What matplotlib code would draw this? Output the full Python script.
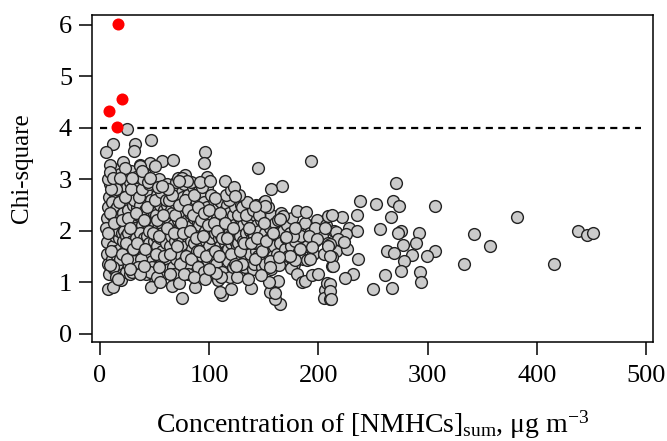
import numpy as np
import matplotlib
matplotlib.use("Agg")
import matplotlib.pyplot as plt

plt.rcParams['font.family'] = ['Liberation Serif', 'DejaVu Serif']
plt.rcParams['mathtext.fontset'] = 'custom'
plt.rcParams['mathtext.rm'] = 'Liberation Serif'
plt.rcParams['mathtext.it'] = 'Liberation Serif:italic'

# red points above the threshold
red_x = [16.2, 19.9, 8.5, 15.6]
red_y = [6.01, 4.55, 4.32, 4.01]

threshold = 4.0

# upper edge of the cloud
top_pts = [(25, 3.98), (11.6, 3.69), (5.5, 3.52), (32, 3.69), (31, 3.54), (46.4, 3.77),
           (96.4, 3.52), (9.2, 3.27), (21.4, 3.33), (23.2, 3.22), (36.6, 3.27), (45.8, 3.32),
           (57, 3.35), (67, 3.38), (95.5, 3.31), (144.7, 3.22), (193.5, 3.35), (166.7, 2.87),
           (156.9, 2.80), (120.2, 2.78), (114.7, 2.97), (122.4, 2.85), (97.7, 3.04), (91.8, 2.95),
           (71.7, 3.03), (77.8, 3.09), (9.2, 3.13), (37, 3.25), (50.6, 3.25), (75, 3.02),
           (79.7, 2.97), (72, 2.97), (101, 2.97), (11.6, 3.02), (18.6, 3.02), (29.3, 3.02),
           (38.5, 3.15), (46, 3.02), (56.8, 2.86), (151.4, 2.57), (105.6, 2.64), (123.9, 2.67),
           (209, 2.28), (180, 2.39), (189, 2.36), (168, 2.28), (151, 2.47), (142, 2.48),
           (165, 2.22)]

# sparse points on the right
right_pts = [(271, 2.92), (238, 2.57), (252.7, 2.52), (268.6, 2.57), (274, 2.47), (306.5, 2.47),
             (235.6, 2.30), (222, 2.27), (212, 2.30), (266.5, 2.26), (381.6, 2.27), (235, 2.00),
             (256, 2.03), (216, 1.97), (225, 1.93), (218, 1.84), (223, 1.77), (210.6, 1.74),
             (276, 1.99), (273, 1.95), (292, 1.95), (342.5, 1.93), (438, 2.00), (445.7, 1.91),
             (451.7, 1.95), (277.8, 1.72), (289, 1.75), (357, 1.71), (263, 1.60), (269.5, 1.56),
             (285.4, 1.53), (307, 1.61), (299, 1.50), (236, 1.44), (278.7, 1.41), (212, 1.48),
             (213, 1.32), (333.6, 1.35), (415.8, 1.35), (232, 1.16), (224, 1.08), (261, 1.14),
             (276, 1.21), (293, 1.19), (294, 1.00), (210.6, 0.97), (210.6, 0.82), (211.5, 0.68),
             (249.7, 0.87), (267.4, 0.88), (197, 2.06), (206, 2.06), (191, 1.90), (198.7, 1.84),
             (177, 1.90), (178.8, 2.06), (170, 1.87), (183.4, 1.64), (194, 1.68), (192.6, 1.45),
             (174, 1.51), (163.6, 1.48), (209, 1.71), (211, 1.51)]

# lower edge of the cloud
low_pts = [(165, 0.57), (160.5, 0.68), (156, 0.81), (160.5, 0.79), (162.7, 1.03), (155, 1.00),
           (147.4, 1.13), (138.6, 0.88), (111.7, 0.75), (110, 0.81), (120, 0.87), (135.5, 1.06),
           (175, 1.27), (180.4, 1.16), (185, 1.00), (188, 1.03), (194, 1.14), (199.6, 1.16),
           (189.6, 1.42), (179, 1.42), (206, 0.84), (204.8, 0.69), (211, 0.68), (208, 0.99),
           (212.5, 1.32), (163.6, 1.33), (156, 1.29), (106, 1.18), (124.5, 1.32), (75, 0.69),
           (7.3, 0.87), (11.6, 0.90), (16.5, 1.06), (9.4, 1.33), (47, 0.90), (66, 0.93),
           (87.3, 0.90), (72.6, 0.99), (55, 1.00), (64.4, 1.16), (29.3, 1.19), (37, 1.16),
           (27.8, 1.26), (40, 1.32), (53.8, 1.29), (76.6, 1.16), (85.8, 1.10), (96.4, 1.06),
           (99.5, 1.26)]

# dense core of the cloud
core_pts = [(6, 1.78), (7, 2.45), (8, 2.1), (6, 1.55), (9, 2.9), (7, 1.35), (8, 2.65), (6, 2.25),
            (9, 1.95), (8, 1.15), (11, 2.3), (12, 1.7), (13, 2.75), (11, 1.45), (12, 3.05),
            (14, 2.05), (13, 1.25), (11, 2.55), (14, 1.9), (13, 3.2), (14, 2.4), (15, 1.6),
            (16, 2.2), (17, 1.85), (18, 2.9), (16, 1.5), (19, 2.6), (17, 1.3), (18, 3.1),
            (16, 2.45), (19, 1.05), (17, 2.0), (18, 1.65), (19, 2.3), (20, 1.95), (21, 2.75),
            (22, 1.4), (23, 2.15), (21, 1.8), (24, 2.55), (22, 3.0), (23, 1.6), (24, 1.2),
            (21, 2.35), (22, 2.0), (25, 2.85), (24, 1.9), (26, 2.4), (27, 1.75), (28, 2.1),
            (26, 1.35), (29, 2.7), (27, 2.95), (28, 1.55), (29, 2.25), (26, 1.95), (27, 1.15),
            (30, 2.5), (29, 1.8), (31, 2.2), (32, 1.65), (33, 2.85), (31, 1.4), (34, 2.45),
            (32, 2.05), (33, 1.25), (34, 3.05), (31, 2.6), (33, 1.85), (35, 2.3), (36, 1.7),
            (37, 2.5), (38, 2.1), (36, 2.9), (39, 1.5), (37, 1.95), (38, 1.3), (39, 2.7),
            (36, 2.3), (40, 1.85), (41, 2.4), (42, 1.6), (43, 2.15), (41, 3.1), (44, 1.35),
            (42, 2.75), (43, 1.9), (44, 2.55), (45, 1.75), (42, 1.15), (46, 2.25), (47, 1.55),
            (48, 2.95), (46, 2.0), (49, 1.8), (47, 2.6), (48, 1.4), (49, 2.35), (50, 1.0),
            (50, 2.1), (51, 1.9), (52, 2.7), (53, 1.5), (51, 2.3), (54, 3.0), (52, 1.7),
            (53, 2.05), (54, 1.3), (55, 2.5), (55, 1.85), (56, 2.15), (57, 1.6), (58, 2.85),
            (56, 1.35), (59, 2.4), (57, 1.95), (58, 1.15), (59, 2.65), (60, 1.75), (60, 2.2),
            (61, 2.5), (62, 1.45), (63, 2.0), (61, 2.9), (64, 1.7), (62, 2.25), (63, 1.25),
            (64, 2.7), (65, 1.9), (65, 2.4), (66, 1.55), (67, 2.1), (68, 2.8), (66, 2.35),
            (69, 1.8), (67, 1.3), (68, 2.55), (69, 2.0), (70, 1.45), (70, 2.95), (71, 2.2),
            (72, 1.65), (73, 2.6), (71, 1.9), (74, 2.4), (72, 1.1), (73, 2.05), (74, 1.5),
            (75, 2.75), (75, 1.8), (76, 2.3), (77, 1.4), (78, 2.0), (76, 2.65), (79, 1.7),
            (77, 2.9), (78, 1.25), (79, 2.45), (80, 1.9), (80, 2.2), (81, 1.55), (82, 2.35),
            (83, 1.8), (81, 2.7), (84, 2.1), (82, 1.3), (83, 2.55), (84, 1.65), (85, 2.0),
            (85, 2.85), (86, 2.25), (87, 1.45), (88, 2.6), (86, 1.75), (89, 2.0), (87, 2.4),
            (88, 1.2), (89, 1.6), (90, 2.15), (90, 2.75), (91, 1.85), (92, 2.45), (93, 1.5),
            (91, 2.1), (94, 2.7), (92, 1.3), (93, 2.3), (94, 1.7), (95, 1.95), (95, 2.55),
            (96, 1.6), (97, 2.25), (98, 2.85), (96, 2.0), (99, 1.4), (97, 1.8), (98, 2.45),
            (99, 1.15), (100, 2.1), (100, 1.7), (101, 2.35), (102, 1.55), (103, 2.0),
            (101, 1.25), (104, 2.6), (102, 1.85), (103, 2.2), (104, 1.45), (105, 1.95),
            (106, 2.1), (107, 1.6), (108, 2.45), (106, 1.35), (109, 1.85), (107, 2.25),
            (108, 1.05), (109, 2.6), (110, 1.7), (111, 1.9), (112, 2.3), (113, 1.5), (111, 2.55),
            (114, 1.75), (112, 1.2), (113, 2.05), (114, 2.4), (115, 1.6), (116, 2.2), (117, 1.4),
            (118, 1.85), (116, 2.5), (119, 2.0), (117, 1.65), (118, 2.35), (119, 1.1),
            (120, 1.75), (121, 1.95), (122, 2.3), (123, 1.55), (121, 2.6), (124, 1.8),
            (122, 1.3), (123, 2.1), (124, 2.45), (125, 1.7), (126, 2.0), (127, 1.45),
            (128, 2.25), (126, 1.75), (129, 2.5), (127, 1.2), (128, 1.9), (129, 1.6),
            (130, 2.15), (131, 1.8), (132, 2.35), (133, 1.5), (131, 2.1), (134, 1.65),
            (132, 2.55), (133, 1.3), (134, 1.95), (135, 2.2), (136, 1.7), (137, 2.0), (138, 1.4),
            (136, 2.4), (139, 1.85), (137, 1.55), (138, 2.25), (139, 2.05), (140, 1.25),
            (141, 1.9), (142, 2.3), (143, 1.6), (141, 1.35), (144, 2.1), (142, 1.75),
            (143, 2.5), (145, 1.5), (146, 2.0), (147, 1.7), (148, 2.35), (146, 1.45),
            (149, 1.85), (147, 2.2), (148, 1.3), (150, 2.55), (151, 1.95), (152, 1.6),
            (153, 2.25), (151, 1.35), (154, 1.8), (152, 2.4), (155, 1.55), (154, 2.1),
            (156, 1.85), (157, 2.3), (158, 1.5), (156, 2.05), (159, 1.7), (157, 1.25),
            (160, 2.15), (161, 1.95), (162, 1.55), (163, 2.2), (165, 1.75), (166, 2.35),
            (167, 1.4), (168, 2.0), (169, 1.65), (170, 1.85), (171, 2.1), (172, 1.5),
            (174, 1.95), (175, 1.7), (176, 2.25), (178, 1.35), (179, 1.8), (180, 2.05),
            (182, 1.6), (184, 1.9), (186, 1.45), (188, 2.15), (190, 1.7), (192, 1.95),
            (195, 1.55), (197, 1.8), (199, 2.2), (203, 1.9), (205, 1.55), (207, 2.1),
            (209, 1.75), (214, 2.0), (216, 1.6), (219, 1.85), (226, 1.65), (228, 2.05)]

# more points filling the gaps of the core
fill_pts = [(5.5, 2.05), (7.5, 1.95), (9.5, 2.35), (10, 1.6), (12.5, 2.15), (15, 2.8), (15.5, 1.35),
            (17.5, 2.55), (18.5, 1.45), (20, 2.2), (20.5, 1.55), (22.5, 2.65), (23.5, 1.75),
            (25, 1.45), (25.5, 2.25), (27.5, 2.05), (28.5, 2.8), (30, 1.65), (30.5, 1.25),
            (12, 1.3), (10, 2.8), (7, 3.0), (14.5, 1.1), (24, 3.1), (28, 3.15), (32.5, 2.35),
            (34, 1.75), (35.5, 2.65), (37.5, 1.45), (38.5, 2.8), (40, 2.2), (41.5, 1.65),
            (43, 2.45), (44.5, 2.0), (45, 2.9), (47.5, 1.3), (48.5, 1.95), (50, 2.6),
            (51.5, 1.55), (52.5, 2.2), (54, 1.9), (55.5, 2.75), (57.5, 2.3), (58.5, 1.5),
            (60, 2.6), (33, 3.05), (39, 3.0), (43.5, 2.95), (53, 2.85), (35, 1.3), (46, 1.2),
            (52, 1.1), (61.5, 2.05), (63, 2.6), (64.5, 1.55), (66, 2.7), (67.5, 1.95), (69, 2.3),
            (70.5, 1.7), (72, 2.5), (73.5, 1.35), (74.5, 2.15), (76, 1.95), (77.5, 2.6),
            (79, 1.5), (80.5, 2.4), (82, 2.0), (83.5, 1.45), (85, 2.3), (86.5, 2.7), (88, 1.85),
            (89.5, 2.45), (91, 1.6), (92.5, 2.2), (94, 1.9), (95.5, 2.35), (97, 1.5), (98.5, 2.1),
            (100, 2.4), (62, 2.8), (68, 1.15), (83, 2.95), (90, 1.3), (95, 1.2), (81, 1.15),
            (93, 2.85), (102, 2.7), (104, 2.15), (105, 1.6), (107, 2.0), (109, 1.5), (110, 2.35),
            (112, 1.85), (114, 2.15), (116, 1.85), (118, 2.6), (120, 1.55), (122, 2.05),
            (124, 1.35), (126, 2.3), (128, 1.6), (130, 2.45), (132, 1.75), (134, 2.3),
            (136, 2.05), (138, 1.75), (140, 2.4), (142, 1.45), (144, 1.85), (146, 2.3),
            (148, 1.6), (150, 2.15), (152, 1.8), (154, 2.45), (156, 1.4), (158, 1.95),
            (111, 1.1), (125, 1.1), (130, 1.35), (115, 2.7), (135, 2.55), (127, 2.7)]

gray_pts = core_pts + fill_pts + top_pts + low_pts + right_pts
gray_x = [p[0] for p in gray_pts]
gray_y = [p[1] for p in gray_pts]

fig = plt.figure(figsize=(6.67, 4.41), dpi=100)
ax = fig.add_axes([0.138, 0.225, 0.8415, 0.741])

ax.hlines(threshold, 0, 495, colors='black', linewidth=1.6, linestyles=(0, (3.2, 2.4)), zorder=1)
ax.scatter(gray_x, gray_y, s=72, facecolor='#cbcbcb', edgecolor='#222222', linewidth=1.0, zorder=2)
ax.scatter(red_x, red_y, s=75, color='#ff0000', linewidth=0, zorder=3)

ax.set_xlim(-7.3, 506.7)
ax.set_ylim(-0.16, 6.19)
ax.set_xticks([0, 100, 200, 300, 400, 500])
ax.set_yticks([0, 1, 2, 3, 4, 5, 6])
ax.tick_params(direction='out', length=9.4, width=1.1, labelsize=19)
ax.tick_params(axis='y', pad=5)
ax.tick_params(axis='x', pad=7)
for s in ax.spines.values():
    s.set_linewidth(1.1)

ax.set_xlabel(r'Concentration of [NMHCs]$_{\mathrm{sum}}$, $\mathrm{\mu}$g m$^{\mathrm{-3}}$',
              fontsize=20, labelpad=16)
ax.set_ylabel('Chi-square', fontsize=18)
ax.yaxis.set_label_coords(-0.105, 0.53)

plt.savefig('out.png', dpi=100)
